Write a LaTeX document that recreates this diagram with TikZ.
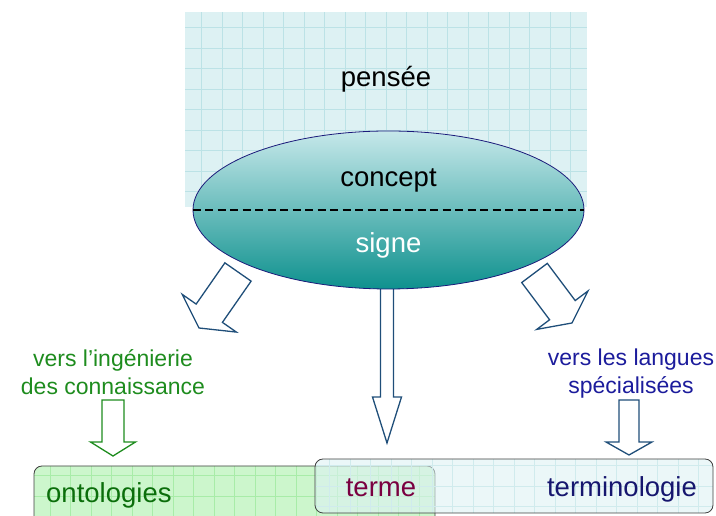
\documentclass[tikz,border=0pt]{standalone}
\usepackage{fontspec}
\setmainfont{Liberation Sans}
\usepackage{tikz}
\usetikzlibrary{calc,shapes.geometric}

\definecolor{thought}{HTML}{DDF1F3}
\definecolor{thoughtgrid}{HTML}{BCE2E6}
\definecolor{ontofill}{HTML}{CCF6CC}
\definecolor{ontogrid}{HTML}{A8ECA8}
\definecolor{ellipsetop}{HTML}{C6E8EA}
\definecolor{ellipsebot}{HTML}{0E918E}
\definecolor{ellipseline}{HTML}{1A1A7A}
\definecolor{arrowblue}{HTML}{1F4E79}
\definecolor{kegreen}{HTML}{1E8C1E}
\definecolor{ontogreen}{HTML}{0B6E0B}
\definecolor{lsblue}{HTML}{1C1C9C}
\definecolor{termred}{HTML}{7A0040}
\definecolor{termblue}{HTML}{16166E}
\definecolor{boxline}{HTML}{404040}

% tail, tip, shaft half-width, head half-width, head length, style
\newcommand{\hollowarrow}[6]{%
  \path ($(#2)!#5!(#1)$) coordinate (hb);
  \draw[#6] ($(#1)!#3!90:(#2)$) -- ($(hb)!#3!90:(#2)$) -- ($(hb)!#4!90:(#2)$)
    -- (#2) -- ($(hb)!#4!-90:(#2)$) -- ($(hb)!#3!-90:(#2)$) -- ($(#1)!#3!-90:(#2)$) -- cycle;}

\begin{document}
\begin{tikzpicture}[x=1pt,y=1pt,
  bigtext/.style={font=\fontsize{27.5}{33}\selectfont, inner sep=0pt},
  smalltext/.style={font=\fontsize{23}{28}\selectfont, align=center, inner sep=0pt},
  blockarrow/.style={draw=arrowblue, fill=white, line width=1.3pt, line join=miter},
  gridbox/.style={rectangle, inner sep=0pt, path picture={
      \draw[#1, line width=0.6pt, step=20.5pt] (path picture bounding box.south west) grid (path picture bounding box.north east);}}]
\clip (0,0) rectangle (716,516);

\coordinate (ltail) at (238,244);
\coordinate (ltip) at (199,188);
\coordinate (rtail) at (534.5,243);
\coordinate (rtip) at (572,193);
\coordinate (mtail) at (387,232);
\coordinate (mtip) at (387,73);
\coordinate (gtail) at (113,116);
\coordinate (gtip) at (113,60);
\coordinate (btail) at (629,116);
\coordinate (btip) at (629,61);

\node[gridbox=thoughtgrid, fill=thought, minimum width=402pt, minimum height=195pt] (thinking) at (386,406.5) {};

\hollowarrow{ltail}{ltip}{16pt}{33pt}{18pt}{blockarrow}
\hollowarrow{rtail}{rtip}{16pt}{32pt}{16pt}{blockarrow}
\hollowarrow{mtail}{mtip}{6.5pt}{14.5pt}{46pt}{blockarrow}
\hollowarrow{gtail}{gtip}{11pt}{22.5pt}{14pt}{blockarrow, draw=kegreen}
\hollowarrow{btail}{btip}{10pt}{23pt}{13pt}{blockarrow}

\node[ellipse, draw=ellipseline, line width=0.8pt, inner sep=0pt, minimum width=391pt, minimum height=158pt,
  top color=ellipsetop, bottom color=ellipsebot] (sign) at (388.5,306) {};
\draw[line width=2pt, dash pattern=on 8pt off 4.5pt] (sign.west) -- (sign.east);

\node[gridbox=ontogrid, fill=ontofill, draw=boxline, line width=0.8pt, rounded corners=8pt,
  minimum width=401pt, minimum height=60pt] (ontobox) at (234.5,20) {};
\node[gridbox=thoughtgrid!70, fill=thought, fill opacity=0.6, draw=boxline, line width=0.8pt, rounded corners=8pt,
  minimum width=398pt, minimum height=54pt] (termbox) at (514,30) {};

\node[bigtext, anchor=base] (pensee) at (386,429) {pensée};
\node[bigtext, anchor=base] (concept) at (388.5,329) {concept};
\node[bigtext, anchor=base, text=white] (signe) at (388.5,263) {signe};
\node[smalltext, anchor=north, text=kegreen] (ke) at (113,167) {vers l’ingénierie\\des connaissance};
\node[smalltext, anchor=north, text=lsblue] (ls) at (631,167) {vers les langues\\spécialisées};
\node[bigtext, anchor=base west, text=ontogreen] (onto) at (46,13) {ontologies};
\node[bigtext, anchor=base, text=termred] (terme) at (381,19) {terme};
\node[bigtext, anchor=base, text=termblue] (termino) at (622,19) {terminologie};
\end{tikzpicture}
\end{document}
